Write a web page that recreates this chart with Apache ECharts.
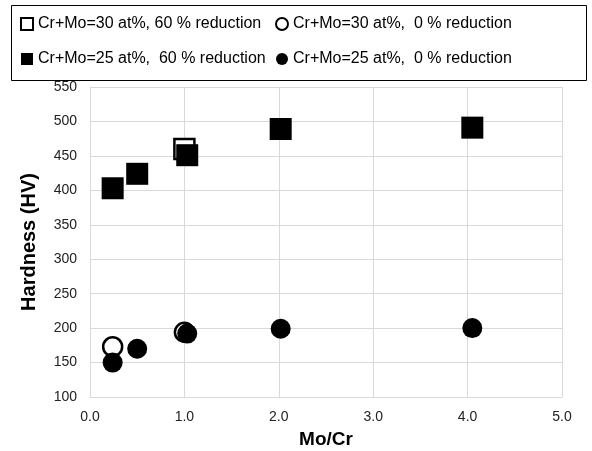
<!DOCTYPE html>
<html><head><meta charset="utf-8">
<script src="https://cdn.jsdelivr.net/npm/echarts@6/dist/echarts.min.js"></script>
<style>html,body{margin:0;padding:0;background:#fff}#c{width:592px;height:451px}</style>
</head><body><div id="c"></div>
<script>
var seriesNames = ['Cr+Mo=30 at%, 60 % reduction', 'Cr+Mo=30 at%,  0 % reduction', 'Cr+Mo=25 at%,  60 % reduction', 'Cr+Mo=25 at%,  0 % reduction'];
var x30_60 = [1.0];
var hv30_60 = [460];
var x30_0 = [0.24, 1.0];
var hv30_0 = [173, 194];
var x25 = [0.24, 0.5, 1.03, 2.02, 4.05];
var hv25_60 = [403, 424, 451, 489, 491];
var hv25_0 = [150, 170, 192, 199, 200];
var xTicks = [0, 1, 2, 3, 4, 5];
var yTicks = [100, 150, 200, 250, 300, 350, 400, 450, 500, 550];

function pairs(xs, ys){ return xs.map(function(x,i){return [x, ys[i]];}); }
var font = 'Liberation Sans, Arial, sans-serif';
var chart = echarts.init(document.getElementById('c'), null, {renderer:'canvas'});
var legendText = {fontFamily: font, fontSize: 16, color: '#000'};
chart.setOption({
  animation: false,
  graphic: [{type:'rect', left: 9, top: 3, shape:{width: 575, height: 75}, style:{fill:'none', stroke:'#000', lineWidth:1}, z: 100}],
  legend: [
    {data: [seriesNames[0], seriesNames[2]], orient:'vertical', left: 20, top: 16, itemWidth: 12, itemHeight: 12, itemGap: 19, textStyle: legendText, padding: 0, selectedMode: false},
    {data: [seriesNames[1], seriesNames[3]], orient:'vertical', left: 275, top: 16, itemWidth: 12, itemHeight: 12, itemGap: 19, textStyle: legendText, padding: 0, selectedMode: false}
  ],
  grid: {left: 90, right: 30, top: 87, bottom: 54, outerBoundsMode: 'none', containLabel: false},
  xAxis: {
    type: 'value', min: xTicks[0], max: xTicks[xTicks.length-1], interval: 1,
    name: 'Mo/Cr', nameLocation: 'middle', nameGap: 33,
    nameTextStyle: {fontFamily: font, fontSize: 19, fontWeight: 'bold', color: '#000'},
    axisLine: {lineStyle: {color: '#d9d9d9', width: 1}}, axisTick: {show: false},
    axisLabel: {fontFamily: font, fontSize: 14, color: '#222', margin: 13, formatter: function(v){return v.toFixed(1);}},
    splitLine: {show: true, lineStyle: {color: '#d9d9d9', width: 1}}
  },
  yAxis: {
    type: 'value', min: yTicks[0], max: yTicks[yTicks.length-1], interval: 50,
    name: 'Hardness (HV)', nameLocation: 'middle', nameGap: 51,
    nameTextStyle: {fontFamily: font, fontSize: 20, fontWeight: 'bold', color: '#000'},
    axisLine: {show: true, lineStyle: {color: '#d9d9d9', width: 1}}, axisTick: {show: false},
    axisLabel: {fontFamily: font, fontSize: 14, color: '#222', margin: 13},
    splitLine: {show: true, lineStyle: {color: '#d9d9d9', width: 1}}
  },
  series: [
    {name: seriesNames[0], type: 'scatter', symbol: 'rect', symbolSize: 20, data: pairs(x30_60, hv30_60),
     itemStyle: {color: '#fff', borderColor: '#000', borderWidth: 2.5, opacity: 1}},
    {name: seriesNames[1], type: 'scatter', symbol: 'circle', symbolSize: 19, data: pairs(x30_0, hv30_0),
     itemStyle: {color: '#fff', borderColor: '#000', borderWidth: 2.5, opacity: 1}},
    {name: seriesNames[2], type: 'scatter', symbol: 'rect', symbolSize: 22, data: pairs(x25, hv25_60),
     itemStyle: {color: '#000', opacity: 1}},
    {name: seriesNames[3], type: 'scatter', symbol: 'circle', symbolSize: 20, data: pairs(x25, hv25_0),
     itemStyle: {color: '#000', opacity: 1}}
  ]
});
</script></body></html>
